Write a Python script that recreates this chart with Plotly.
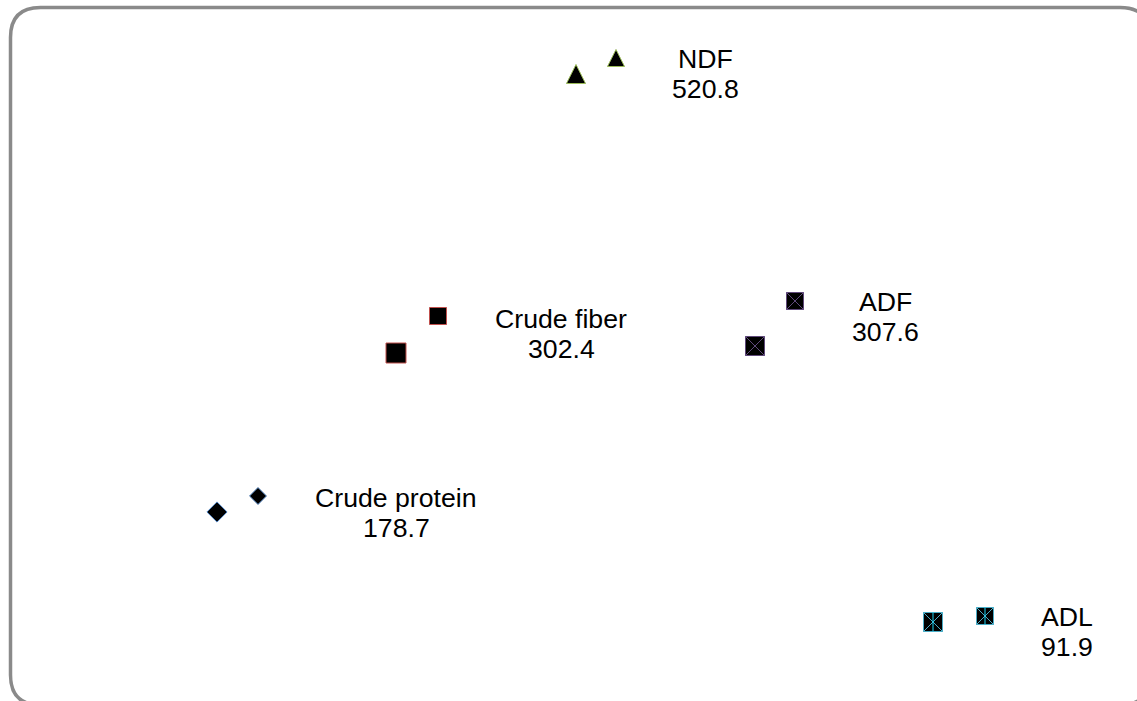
import plotly.graph_objects as go

# ---- data (x to the right, y downward, canvas units) ----
categories = ["NDF", "Crude fiber", "ADF", "Crude protein", "ADL"]
values = [520.8, 302.4, 307.6, 178.7, 91.9]
# first (larger) point of each pair (centre)
x_a = [576, 396, 755, 217, 933]
y_a = [74, 353, 346, 512, 622]
# second (smaller) point of each pair (centre)
x_b = [616, 438, 795, 258, 985]
y_b = [58, 316, 301, 496, 616]

# ---- styling ----
W, H = 1137, 701
symbols = ["arrow-up", "square", "square-x", "diamond", "square-x"]
edge_cols = ["#9bbb59", "#c0504d", "#5f497a", "#4f81bd", "#4bacc6"]
size_a = [19, 20, 19, 15.5, 19]
size_b = [17, 17, 17, 13, 17]
label_dx = [89, 123, 90, 138, 82]     # offset of label centre from the 2nd point
label_dy = [1, 3, 1, 2, 1]
FONT = "Liberation Sans, Arial, sans-serif"
FSIZE = 26.67

fig = go.Figure()
for i, cat in enumerate(categories):
    ys = [y_a[i], y_b[i]]
    if symbols[i] == "arrow-up":          # arrow symbol is anchored at its tip
        ys = [y_a[i] - size_a[i] / 2, y_b[i] - size_b[i] / 2]
    fig.add_trace(go.Scatter(
        x=[x_a[i], x_b[i]], y=ys, mode="markers",
        marker=dict(symbol=symbols[i], size=[size_a[i], size_b[i]], color="black",
                    opacity=1, line=dict(color=edge_cols[i], width=1)),
        hoverinfo="skip", showlegend=False))
    if cat == "ADL":
        fig.add_trace(go.Scatter(
            x=[x_a[i], x_b[i]], y=[y_a[i], y_b[i]], mode="markers",
            marker=dict(symbol="line-ns-open", size=[size_a[i] / 1.4, size_b[i] / 1.4],
                        opacity=1, line=dict(color=edge_cols[i], width=1)),
            hoverinfo="skip", showlegend=False))
    cx = x_b[i] + label_dx[i]
    cy = y_b[i] + label_dy[i]
    fig.add_annotation(x=cx, y=cy, text=cat, showarrow=False, xanchor="center",
                       yanchor="middle", font=dict(family=FONT, size=FSIZE, color="#000000"))
    fig.add_annotation(x=cx, y=cy, yshift=-30, text=f"{values[i]:.1f}", showarrow=False,
                       xanchor="center", yanchor="middle",
                       font=dict(family=FONT, size=FSIZE, color="#000000"))

# rounded frame
x0, y0, x1, y1, r = 10.5, 7.5, 1150, 705, 30
path = (f"M{x0 + r},{y0} L{x1 - r},{y0} Q{x1},{y0} {x1},{y0 + r} "
        f"L{x1},{y1 - r} Q{x1},{y1} {x1 - r},{y1} L{x0 + r},{y1} "
        f"Q{x0},{y1} {x0},{y1 - r} L{x0},{y0 + r} Q{x0},{y0} {x0 + r},{y0} Z")
fig.add_shape(type="path", path=path, xref="x", yref="y",
              line=dict(color="#8a8a8a", width=3.5), layer="below")

fig.update_layout(
    width=W, height=H, margin=dict(l=0, r=0, t=0, b=0),
    paper_bgcolor="white", plot_bgcolor="white",
    xaxis=dict(range=[0, W], visible=False, fixedrange=True),
    yaxis=dict(range=[H, 0], visible=False, fixedrange=True),
)
fig.write_html("out.html", config={"displayModeBar": False},
               post_script="document.body.style.margin='0';document.body.style.overflow='hidden';")
